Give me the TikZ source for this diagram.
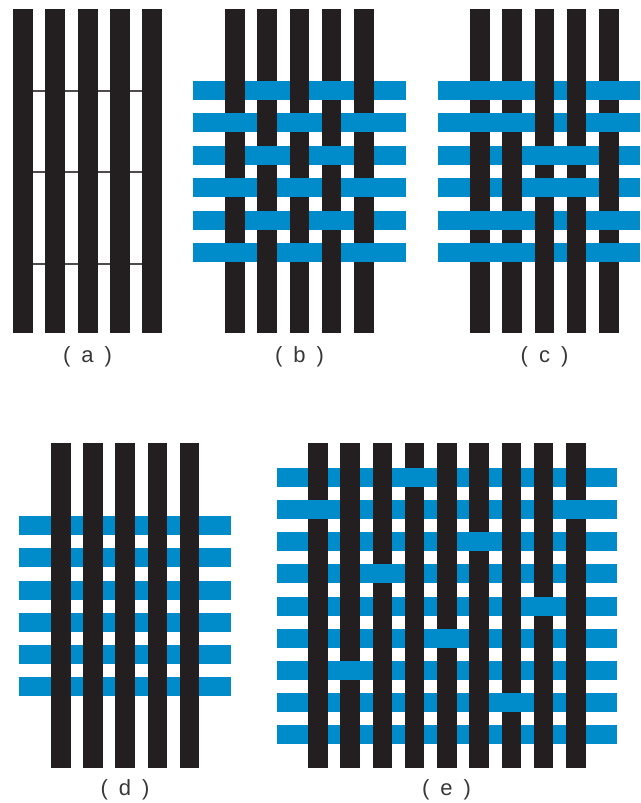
\documentclass[tikz,border=0pt]{standalone}
\usepackage{fontspec}
\setmainfont{Liberation Sans}
\definecolor{ink}{HTML}{231F20}
\definecolor{sky}{HTML}{008BCB}
\newcommand\tagfont{\fontsize{16.5}{18}\selectfont\spaceskip 0.5em\relax}
\tikzset{warp/.style={fill=ink,draw=none}, weft/.style={fill=sky,draw=none}, thread/.style={draw=black!70,line width=0.8pt}, tag/.style={font=\tagfont,text=black!78,inner sep=0pt}}

\begin{document}
\begin{tikzpicture}[x=0.75pt,y=-0.75pt]
\useasboundingbox (0,0) rectangle (640,803);
% (a) warp only
\foreach \y in {91,172,264} \draw[thread] (33,\y)--(142,\y);
\foreach \i in {0,...,4} \fill[warp] ({13+32.25*\i},9) rectangle ++(20,324);
\node[tag] (la) at (87.5,357) {( a )};
% (b) plain
\foreach \r in {0,...,5} \fill[weft] (193,{81+32.4*\r}) rectangle ++(213,19);
\foreach \i in {0,...,4} \fill[warp] ({225+32.25*\i},9) rectangle ++(19.5,324);
\foreach \r in {0,...,5}{\foreach \i in {0,...,4}{
  \pgfmathtruncatemacro\m{mod(\r+\i,2)}
  \ifnum\m=1 \fill[weft] ({224.7+32.25*\i},{81+32.4*\r}) rectangle ++(20.1,19); \fi}}
\node[tag] (lb) at (299.5,357) {( b )};
% (c) basket
\foreach \r in {0,...,5} \fill[weft] (438,{81+32.4*\r}) rectangle (640,{100+32.4*\r});
\foreach \i in {0,...,4} \fill[warp] ({470+32.25*\i},9) rectangle ++(19.5,324);
\foreach \r/\i in {0/0,0/1,0/4,1/0,1/1,1/4,2/2,2/3,3/2,3/3,4/0,4/1,4/4,5/0,5/1,5/4}
  \fill[weft] ({469.7+32.25*\i},{81+32.4*\r}) rectangle ++(20.1,19);
\node[tag] (lc) at (544.5,357) {( c )};
% (d) warp over all
\foreach \r in {0,...,5} \fill[weft] (19,{516+32.25*\r}) rectangle ++(212,19);
\foreach \i in {0,...,4} \fill[warp] ({51+32.2*\i},443) rectangle ++(19.5,325);
\node[tag] (ld) at (125,790) {( d )};
% (e) satin
\foreach \r in {0,...,8} \fill[weft] (277,{468+32.15*\r}) rectangle ++(340,19);
\foreach \i in {0,...,8} \fill[warp] ({308+32.25*\i},443) rectangle ++(19.5,325);
\foreach \r/\i in {0/3,1/0,1/8,2/5,3/2,4/7,5/4,6/1,7/6}
  \fill[weft] ({307.7+32.25*\i},{468+32.15*\r}) rectangle ++(20.1,19);
\node[tag] (le) at (446.5,790) {( e )};
\end{tikzpicture}
\end{document}
